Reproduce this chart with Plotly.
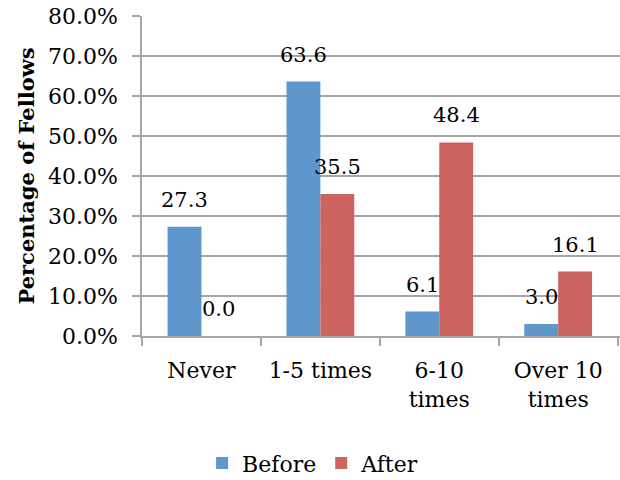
import plotly.graph_objects as go

categories = ["Never", "1-5 times", "6-10<br>times", "Over 10<br>times"]
before = [27.3, 63.6, 6.1, 3.0]
after = [0.0, 35.5, 48.4, 16.1]
y_ticks = [0, 10, 20, 30, 40, 50, 60, 70, 80]
y_ticktext = [f"{v:.1f}%" for v in y_ticks]

FONT = "DejaVu Serif"
BLUE = "#5F96CB"
RED = "#CD635F"
GRID = "#A6A6A6"

fig = go.Figure()
fig.add_trace(go.Bar(x=categories, y=before, name="Before", marker_color=BLUE,
                     marker_line_width=0))
fig.add_trace(go.Bar(x=categories, y=after, name="After", marker_color=RED,
                     marker_line_width=0))

annotations = []
for i, c in enumerate(categories):
    for vals, shift in ((before, -17), (after, 17)):
        annotations.append(dict(x=c, y=vals[i], text=f"{vals[i]:.1f}", showarrow=False,
                                xref="x", yref="y", xshift=shift, yshift=27,
                                yanchor="middle", xanchor="center",
                                font=dict(family=FONT, size=21, color="black")))

fig.update_layout(
    width=620, height=480,
    margin=dict(l=142, r=0, t=16, b=144),
    plot_bgcolor="white", paper_bgcolor="white",
    barmode="group", bargap=0.43, bargroupgap=0,
    font=dict(family=FONT, size=21, color="black"),
    showlegend=True,
    legend=dict(orientation="h", xref="container", yref="container",
                x=0.505, y=0.035, xanchor="center", yanchor="middle",
                font=dict(family=FONT, size=22), itemwidth=30),
    annotations=annotations,
    xaxis=dict(showline=True, linecolor=GRID, linewidth=1.5,
               ticks="outside", tickson="boundaries", ticklen=8, tickcolor=GRID,
               tickwidth=1.5, tickfont=dict(family=FONT, size=22),
               ticklabelstandoff=14,
               range=[-0.5, 3.52]),
    yaxis=dict(range=[0, 80], tickvals=y_ticks, ticktext=y_ticktext,
               showgrid=True, gridcolor=GRID, gridwidth=1.5,
               showline=True, linecolor=GRID, linewidth=1.5,
               ticks="outside", ticklen=8, tickcolor=GRID, tickwidth=1.5,
               tickfont=dict(family=FONT, size=22), zeroline=False,
               ticklabelstandoff=10,
               title=dict(text="<b>Percentage of Fellows</b>",
                          font=dict(family=FONT, size=21), standoff=8)),
)

fig.write_html("out.html")
